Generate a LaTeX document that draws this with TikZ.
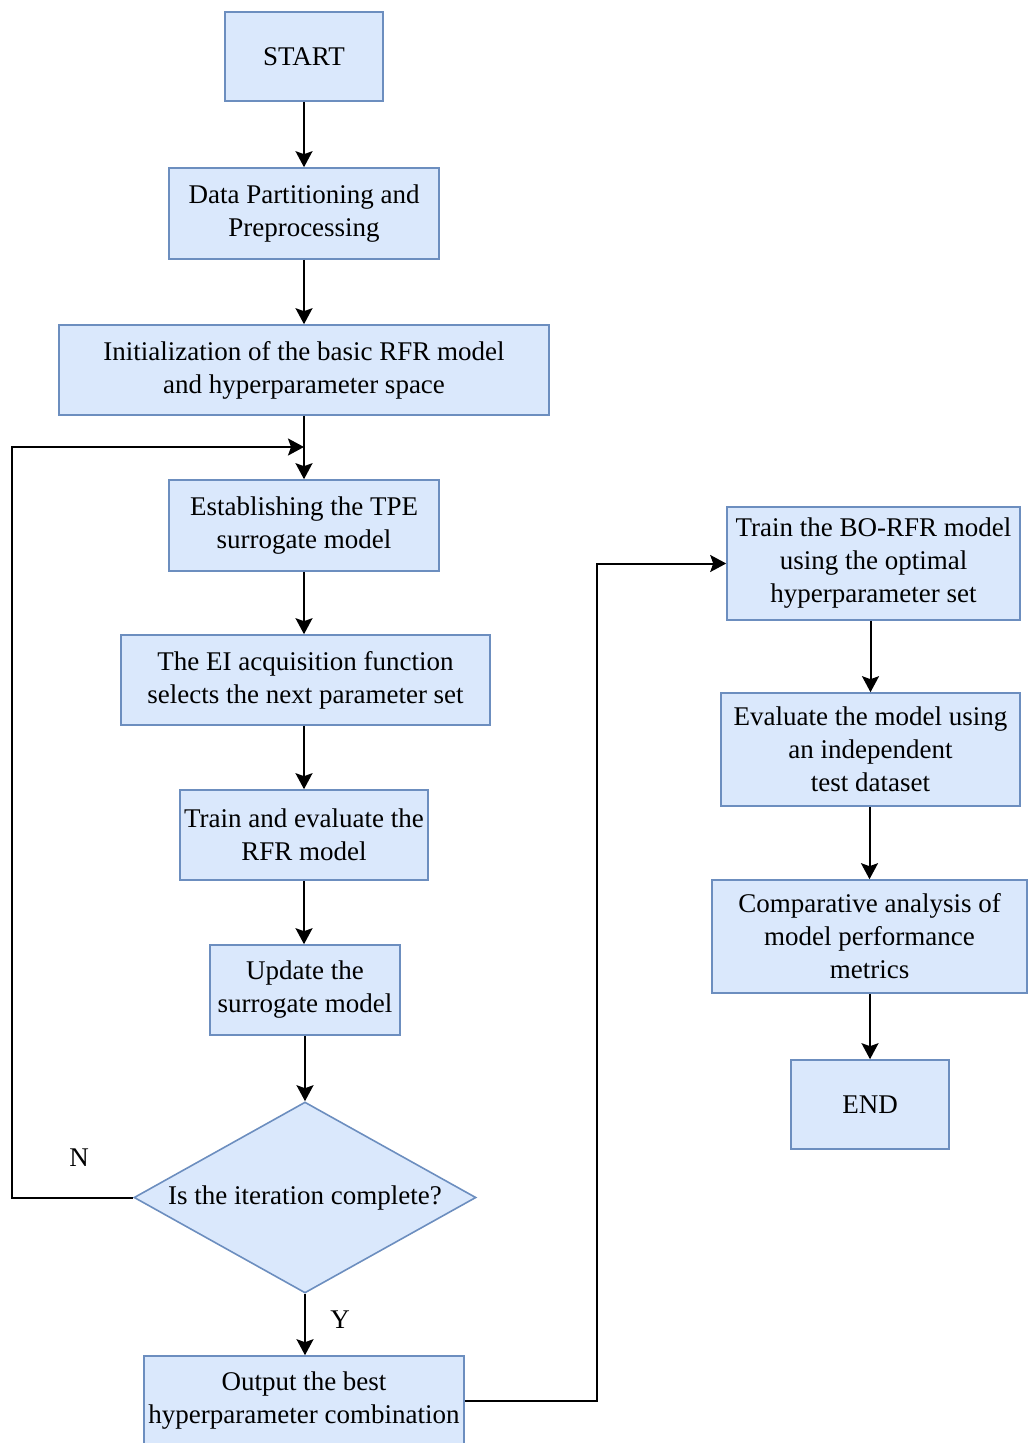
\documentclass[tikz,border=0pt]{standalone}
\usepackage{fontspec}
\setmainfont{LiberationSerif}[Extension=.ttf,UprightFont=*-Regular,BoldFont=*-Bold,ItalicFont=*-Italic]
\usetikzlibrary{arrows.meta,shapes.geometric}
\definecolor{cFill}{HTML}{DAE8FC}
\definecolor{cEdge}{HTML}{6C8EBF}

\begin{document}
\begin{tikzpicture}[x=0.5pt,y=-0.5pt,font=\fontsize{13.5}{16.5}\selectfont]
\tikzset{
  b/.style={draw=cEdge,fill=cFill,line width=0.8pt,align=center,inner sep=2pt},
  dec/.style={b,diamond,aspect=1.79,minimum width=171pt,minimum height=95.5pt,inner sep=1pt},
  ar/.style={line width=1pt,-{Stealth[length=8pt,width=8.5pt,inset=1.5pt]}}
}
\useasboundingbox (0,0) rectangle (1027,1443);
% main column
\node[b,minimum width=79pt,minimum height=44.5pt] (start) at (304,56.5) {START};
\node[b,minimum width=135pt,minimum height=45.5pt] (part) at (304,213.5) {Data Partitioning and\\Preprocessing};
\node[b,minimum width=245pt,minimum height=45pt] (init) at (304,370) {Initialization of the basic RFR model\\and hyperparameter space};
\node[b,minimum width=135pt,minimum height=45.5pt] (tpe) at (304,525.5) {Establishing the TPE\\surrogate model};
\node[b,minimum width=184.5pt,minimum height=45pt] (ei) at (305.5,680) {The EI acquisition function\\selects the next parameter set};
\node[b,minimum width=123pt,minimum height=45pt] (tre) at (304,835) {Train and evaluate the\\RFR model};
\node[b,minimum width=95pt,minimum height=45pt] (upd) at (305,990) {Update the\\surrogate model};
\node[dec] (dia) at (305,1197.5) {Is the iteration complete?};
\node[b,minimum width=160pt,minimum height=45pt] (out) at (304,1401) {Output the best\\hyperparameter combination};
% right column
\node[b,minimum width=146.5pt,minimum height=56.5pt] (bo) at (873.5,563.5) {Train the BO-RFR model\\using the optimal\\hyperparameter set};
\node[b,minimum width=149.5pt,minimum height=56.5pt] (eva) at (870.5,749.5) {Evaluate the model using\\an independent\\test dataset};
\node[b,minimum width=157.5pt,minimum height=56.5pt] (cmp) at (869.5,936.5) {Comparative analysis of\\model performance\\metrics};
\node[b,minimum width=79pt,minimum height=44.5pt] (end) at (870,1104.5) {END};
% connectors
\coordinate (join) at (304,447);
\coordinate (lp) at (12,447);
\draw[ar] (start) -- (part);
\draw[ar] (part) -- (init);
\draw[ar] (init.south) -- (tpe.north);
\draw[ar] (tpe.south) -- (tpe.south |- ei.north);
\draw[ar] (ei.south -| tre.north) -- (tre.north);
\draw[ar] (tre.south) -- (tre.south |- upd.north);
\draw[ar] (upd.south -| dia.north) -- (dia.north);
\draw[ar] (dia.south) -- (dia.south |- out.north);
\draw[ar] (dia.west) -| (lp) -- (join);
\draw[ar] (out.east) -- ++(132,0) |- (bo.west);
\draw[ar] (bo.south -| eva.north) -- (eva.north);
\draw[ar] (eva.south -| cmp.north) -- (cmp.north);
\draw[ar] (cmp.south -| end.north) -- (end.north);
\node (ln) at (79,1158) {N};
\node (ly) at (340,1320) {Y};
\end{tikzpicture}
\end{document}
